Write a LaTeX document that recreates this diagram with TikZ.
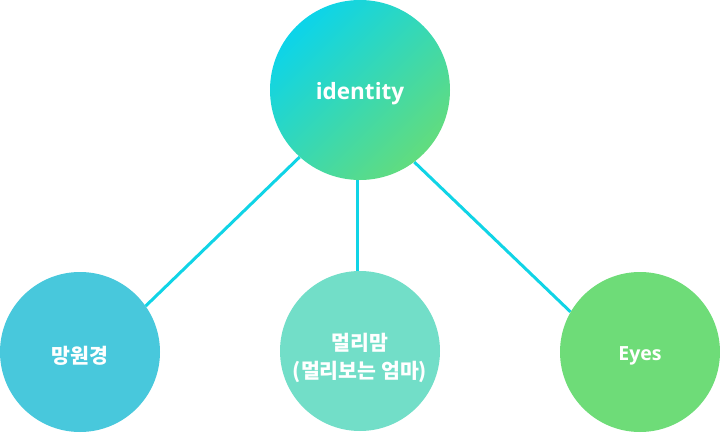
\documentclass[tikz,border=0pt]{standalone}
\usepackage{fontspec}
\setmainfont{Open Sans}
\newfontfamily\kofont{Noto Sans CJK KR}
\usetikzlibrary{backgrounds}
\definecolor{linec}{HTML}{10D4E6}
\definecolor{topA}{HTML}{0CD4EA}
\definecolor{topB}{HTML}{62DC7E}
\definecolor{leftc}{HTML}{48C8DC}
\definecolor{midc}{HTML}{72DEC8}
\definecolor{rightc}{HTML}{6EDC78}
\tikzset{
  bubble/.style={circle, inner sep=0pt, minimum size=160pt},
  txt/.style={inner sep=0pt, text=white, align=center},
  link/.style={draw=linec, line width=3pt},
}
\begin{document}
\begin{tikzpicture}[x=1pt,y=1pt]
\useasboundingbox (0,0) rectangle (720,432);
\node[bubble, minimum size=180pt, top color=topA, bottom color=topB, shading angle=45] (top) at (360,342) {};
\node[bubble, fill=leftc] (left) at (80,80) {};
\node[bubble, fill=midc] (mid) at (360,81) {};
\node[bubble, fill=rightc] (right) at (640,80) {};
\node[txt, font=\bfseries\fontsize{22.5}{27}\selectfont] (toptext) at ([yshift=-4pt]top.center) {identity};
\node[txt, font=\kofont\bfseries\fontsize{20.5}{24}\selectfont] (lefttext) at ([yshift=-4pt]left.center) {망원경};
\node[txt, font=\kofont\bfseries\fontsize{20.5}{28.5}\selectfont] (midtext) at ([yshift=-7pt]mid.center) {멀리맘\\(멀리보는 엄마)};
\node[txt, font=\bfseries\fontsize{19.5}{24}\selectfont] (righttext) at ([yshift=-4pt]right.center) {Eyes};
\begin{pgfonlayer}{background}
\draw[link] (top.228.8) -- (left.35.5);
\draw[link] ([xshift=-2.5pt]top.south) -- ([xshift=-2.5pt]mid.north);
\draw[link] (top.307.5) -- (right.150);
\end{pgfonlayer}
\end{tikzpicture}
\end{document}
